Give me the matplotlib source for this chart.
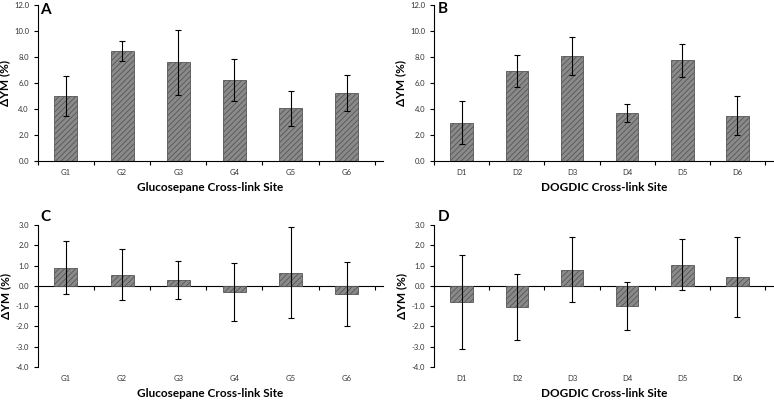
import numpy as np
import matplotlib
matplotlib.use('Agg')
import matplotlib.pyplot as plt

plt.rcParams['font.family'] = ['Lato', 'DejaVu Sans']
plt.rcParams['hatch.linewidth'] = 0.6

# Data
g_sites = ['G1', 'G2', 'G3', 'G4', 'G5', 'G6']
d_sites = ['D1', 'D2', 'D3', 'D4', 'D5', 'D6']

a_vals = [5.0, 8.45, 7.6, 6.2, 4.05, 5.2]
a_err = [1.55, 0.75, 2.5, 1.62, 1.35, 1.38]

b_vals = [2.95, 6.95, 8.1, 3.7, 7.75, 3.5]
b_err = [1.68, 1.22, 1.47, 0.72, 1.27, 1.53]

c_vals = [0.9, 0.55, 0.3, -0.3, 0.65, -0.4]
c_err = [1.3, 1.27, 0.93, 1.45, 2.25, 1.57]

d_vals = [-0.8, -1.05, 0.8, -1.0, 1.05, 0.45]
d_err = [2.33, 1.63, 1.6, 1.2, 1.27, 1.98]

panels = [
    ('A', g_sites, a_vals, a_err, 'Glucosepane Cross-link Site', (0, 12), [0.049, 0.5975, 0.446, 0.39], (0.052, 0.975)),
    ('B', d_sites, b_vals, b_err, 'DOGDIC Cross-link Site', (0, 12), [0.561, 0.5975, 0.438, 0.39], (0.565, 0.978)),
    ('C', g_sites, c_vals, c_err, 'Glucosepane Cross-link Site', (-4, 3), [0.049, 0.0825, 0.446, 0.355], (0.052, 0.458)),
    ('D', d_sites, d_vals, d_err, 'DOGDIC Cross-link Site', (-4, 3), [0.561, 0.0825, 0.438, 0.355], (0.565, 0.458)),
]

fig = plt.figure(figsize=(7.74, 4.0), dpi=100)

for letter, sites, vals, err, xlab, ylim, rect, lpos in panels:
    ax = fig.add_axes(rect)
    x = np.arange(len(sites))
    ax.bar(x, vals, width=0.41, color='#8a8a8a', edgecolor='#555555',
           hatch='//////', linewidth=0.6, zorder=2)
    ax.errorbar(x, vals, yerr=err, fmt='none', ecolor='black',
                elinewidth=0.8, capsize=2, capthick=0.8, zorder=3)
    ax.set_xlim(-0.5, len(sites) - 0.5 + 0.15)
    ax.set_ylim(*ylim)
    ax.set_yticks(np.arange(ylim[0], ylim[1] + 0.1, 2 if ylim[1] == 12 else 1))
    ax.yaxis.set_major_formatter(matplotlib.ticker.FormatStrFormatter('%.1f'))
    ax.tick_params(axis='y', labelsize=5.5, labelcolor='#333333', length=3, width=0.8)
    ax.spines['top'].set_visible(False)
    ax.spines['right'].set_visible(False)
    ax.spines['left'].set_linewidth(0.8)

    ax.set_xticks(x)
    ax.set_xticklabels(sites)
    ax.tick_params(axis='x', which='major', length=0, labelsize=5.5,
                   labelcolor='#333333', pad=6)
    bounds = np.arange(len(sites) + 1) - 0.5
    if ylim[0] == 0:
        ax.spines['bottom'].set_linewidth(0.8)
        ax.set_xticks(bounds, minor=True)
        ax.tick_params(axis='x', which='minor', length=3, width=0.8)
    else:
        ax.spines['bottom'].set_visible(False)
        sec = ax.secondary_xaxis(0, transform=ax.transData)
        sec.set_xticks(bounds)
        sec.set_xticklabels([])
        sec.tick_params(axis='x', length=3, width=0.8)
        sec.spines['bottom'].set_linewidth(0.8)

    ax.set_xlabel(xlab, fontsize=8.5, fontweight='bold', labelpad=4)
    ax.set_ylabel('\u0394YM (%)', fontsize=8.5, fontweight='bold', labelpad=3)
    fig.text(lpos[0], lpos[1], letter, fontsize=11, fontweight='bold',
             va='center', ha='left')

fig.savefig('out.png', dpi=100)
